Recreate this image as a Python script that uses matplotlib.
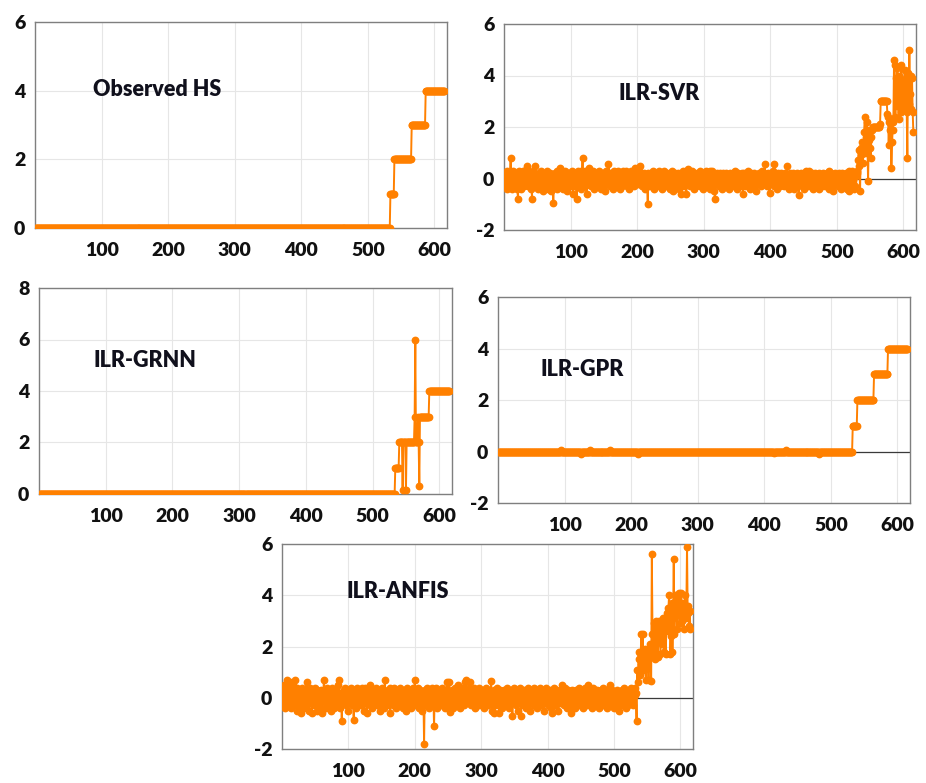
import numpy as np
import matplotlib
matplotlib.use("Agg")
import matplotlib.pyplot as plt

plt.rcParams['font.family'] = ['Lato', 'DejaVu Sans']
plt.rcParams['axes.unicode_minus'] = False

# step-like series: (level, number of samples)
obs_levels = [0, 1, 2, 3, 4]
obs_counts = [533, 6, 26, 21, 29]

gpr_levels = [0, 1, 2, 3, 4]
gpr_counts = [532, 7, 25, 21, 30]
gpr_bump_x = [95, 125, 138, 168, 210, 415, 432, 483]
gpr_bump_y = [0.06, -0.08, 0.07, 0.06, -0.08, -0.07, 0.07, -0.08]

grnn_levels = [0, 1, 2, 0.15, 2, 0.15, 2, 3, 6, 2, 3, 2, 0.3, 3, 4]
grnn_counts = [533, 6, 5, 1, 4, 1, 12, 1, 1, 3, 1, 1, 1, 14, 31]

# ILR-SVR, samples 1..530 (noise around zero)
svr_base = [
    0.2, -0.3, 0.1, -0.4, 0.3, -0.1, -0.3, 0.0, 0.2, 0.8, -0.2, -0.4, 0.1, 0.3, -0.3, 0.0, -0.2, 0.2, -0.1, -0.4,
    -0.8, 0.1, 0.3, -0.2, 0.0, -0.4, 0.2, -0.1, 0.3, -0.3, 0.1, -0.2, 0.0, 0.4, 0.5, -0.3, 0.1, -0.2, 0.2, -0.4,
    0.0, -0.8, 0.3, -0.1, 0.2, -0.3, 0.5, 0.1, -0.2, 0.0, -0.4, 0.2, -0.1, 0.1, -0.3, 0.3, -0.2, 0.0, -0.5, 0.1,
    0.2, -0.3, 0.0, -0.1, 0.3, -0.4, 0.1, -0.2, 0.2, -0.5, 0.0, -0.3, 0.1, -0.95, -0.2, 0.2, -0.1, 0.0, -0.4, 0.3,
    -0.2, 0.1, -0.3, 0.4, 0.0, -0.1, 0.2, -0.4, 0.1, -0.2, 0.3, -0.3, 0.0, 0.1, -0.5, 0.2, -0.1, 0.0, -0.3, 0.2,
    -0.1, 0.3, -0.2, -0.6, 0.1, -0.3, 0.2, 0.0, -0.8, 0.1, 0.3, -0.2, 0.0, 0.2, -0.4, 0.3, 0.1, 0.8, -0.1, 0.2,
    -0.3, 0.3, 0.0, -0.6, 0.2, -0.1, 0.4, -0.2, 0.1, -0.3, 0.2, 0.0, -0.1, 0.3, -0.4, 0.1, -0.2, 0.2, 0.0, -0.3,
    0.1, -0.2, 0.3, 0.0, -0.4, 0.2, -0.1, 0.1, -0.3, 0.2, 0.0, -0.5, 0.3, -0.2, 0.1, -0.1, 0.55, 0.2, -0.3, 0.0,
    0.2, -0.2, 0.1, -0.4, 0.3, 0.0, -0.1, 0.2, -0.3, 0.1, 0.3, -0.2, 0.0, -0.4, 0.2, -0.1, 0.1, -0.3, 0.3, 0.0,
    -0.2, 0.2, -0.1, 0.3, -0.3, 0.0, 0.1, -0.4, 0.2, -0.1, 0.3, 0.0, -0.2, 0.1, -0.3, 0.2, 0.4, -0.1, 0.0, 0.3,
    -0.2, 0.1, 0.3, -0.1, 0.5, 0.2, -0.3, 0.0, 0.1, -0.2, 0.2, -0.4, 0.0, 0.1, -0.3, -1.0, 0.2, -0.1, 0.1, -0.3,
    0.2, 0.0, -0.2, 0.3, -0.4, 0.1, -0.1, 0.2, 0.0, -0.3, 0.1, -0.2, 0.3, 0.0, -0.1, 0.2, -0.4, 0.1, 0.0, -0.2,
    0.3, -0.1, 0.1, -0.3, 0.2, 0.0, -0.2, 0.1, -0.4, 0.2, -0.1, 0.0, 0.3, -0.5, 0.1, -0.2, 0.2, 0.0, -0.3, 0.1,
    -0.1, 0.2, -0.4, 0.0, 0.1, -0.6, 0.2, -0.1, 0.3, -0.3, 0.0, 0.1, -0.2, -0.6, 0.3, 0.35, -0.1, 0.2, -0.3, 0.0,
    0.1, -0.2, 0.3, -0.1, 0.0, -0.4, 0.2, 0.1, -0.3, 0.0, 0.2, -0.1, 0.1, -0.3, 0.3, 0.0, -0.2, 0.1, -0.4, 0.2,
    0.0, -0.1, 0.3, -0.2, 0.1, -0.3, 0.2, 0.0, 0.3, -0.4, 0.1, -0.1, 0.3, -0.2, 0.0, -0.5, -0.8, 0.1, -0.2, 0.2,
    -0.1, 0.0, -0.3, 0.2, 0.1, -0.2, 0.0, -0.4, 0.2, -0.1, 0.1, -0.3, 0.0, 0.2, -0.2, 0.1, -0.1, -0.4, 0.2, 0.0,
    -0.2, 0.1, -0.3, 0.2, 0.0, -0.1, 0.3, -0.2, 0.0, -0.4, 0.1, 0.2, -0.2, 0.0, -0.3, 0.1, 0.2, -0.1, -0.6, 0.0,
    0.2, -0.3, 0.1, -0.1, 0.0, 0.3, -0.2, 0.1, -0.4, 0.0, 0.2, -0.1, 0.1, -0.3, 0.0, 0.2, -0.2, 0.1, -0.5, 0.0,
    0.1, -0.2, 0.2, -0.1, 0.0, -0.3, 0.3, 0.1, -0.2, 0.0, 0.2, 0.55, -0.1, 0.1, -0.3, 0.2, 0.0, -0.2, -0.55, 0.1,
    0.2, -0.1, 0.0, 0.3, -0.3, 0.55, 0.1, -0.2, 0.0, -0.4, 0.2, -0.1, 0.1, -0.3, 0.0, 0.2, -0.2, 0.1, -0.1, 0.0,
    -0.3, 0.2, 0.1, -0.2, 0.5, 0.0, -0.1, -0.4, 0.2, 0.0, -0.3, 0.1, -0.2, 0.2, -0.4, 0.0, 0.1, -0.1, -0.3, 0.2,
    0.0, -0.2, -0.65, 0.1, -0.1, 0.2, -0.3, 0.0, 0.1, -0.4, 0.2, -0.1, 0.3, 0.0, -0.2, 0.1, -0.3, 0.3, 0.0, -0.2,
    0.1, -0.1, 0.2, -0.4, 0.0, 0.1, -0.2, 0.2, -0.3, 0.0, 0.1, -0.1, -0.4, 0.2, 0.0, -0.2, 0.1, -0.3, 0.0, 0.2,
    -0.1, 0.1, -0.3, 0.0, 0.2, -0.2, 0.1, -0.4, 0.3, 0.0, -0.1, 0.2, -0.3, 0.1, -0.5, 0.0, 0.2, -0.2, 0.1, -0.1,
    0.0, -0.3, 0.2, -0.1, 0.1, -0.4, 0.0, 0.2, -0.2, 0.1, -0.3, 0.0, -0.1, 0.2, -0.4, 0.1, -0.2, 0.3, -0.5, 0.0,
    0.1, -0.3, 0.3, -0.1, 0.0, -0.4, 0.2, -0.3, 0.1, 0.3,
]
# ILR-SVR, samples 531..615
svr_tail = [
    0.2, 0.7, 1.1, 0.5, -0.5, 1.2, 0.9, 1.4, 0.6, 1.1,
    1.8, 2.4, 1.0, 1.6, 2.2, 1.3, -0.1, 1.5, 1.9, 1.2,
    0.8, 1.6, 1.9, 2.0, 2.0, 2.0, 2.0, 2.0, 2.0, 2.0,
    2.0, 2.0, 2.0, 2.0, 2.1, 3.0, 3.0, 3.0, 3.0, 3.0,
    3.0, 3.0, 3.0, 3.0, 3.0, 2.5, 2.4, 1.3, 2.2, 1.9,
    2.3, 0.4, 1.4, 1.9, 2.2, 4.6, 4.4, 2.4, 3.9, 2.8,
    4.3, 3.1, 2.3, 4.0, 3.6, 2.6, 4.4, 2.9, 3.4, 3.8,
    2.7, 4.2, 3.0, 3.9, 2.6, 0.8, 4.1, 2.9, 5.0, 3.3,
    4.0, 2.7, 3.9, 2.6, 1.8,
]

# ILR-ANFIS, samples 1..533
anfis_base = [
    0.3, -0.2, 0.5, 0.1, -0.4, 0.2, 0.7, -0.1, 0.4, -0.3, 0.0, 0.6, -0.4, 0.2, -0.2, 0.1, 0.5, -0.3, 0.3, 0.7,
    -0.1, 0.4, -0.5, 0.2, 0.0, -0.3, 0.3, -0.6, 0.1, 0.4, -0.2, 0.2, -0.4, 0.0, 0.3, -0.1, 0.6, -0.3, 0.2, -0.5,
    0.1, 0.4, -0.2, 0.3, -0.6, 0.0, 0.2, -0.3, 0.4, -0.1, 0.1, -0.5, 0.3, 0.0, -0.2, 0.2, -0.4, 0.1, 0.3, -0.6,
    0.2, -0.1, 0.7, 0.3, -0.2, 0.1, -0.4, 0.4, 0.0, -0.3, 0.2, -0.1, 0.3, -0.5, 0.1, 0.4, -0.2, 0.0, -0.4, 0.2,
    0.3, -0.3, 0.1, 0.5, -0.2, 0.7, 0.0, -0.4, 0.2, -0.9, 0.1, -0.2, 0.3, -0.1, 0.4, -0.3, 0.0, 0.2, -0.5, 0.1,
    0.3, -0.2, 0.0, 0.4, -0.3, 0.1, -0.1, -0.85, 0.2, 0.3, -0.4, 0.0, 0.4, -0.2, 0.1, -0.3, 0.3, 0.0, -0.1, 0.4,
    -0.3, 0.2, -0.5, 0.1, 0.4, -0.1, 0.0, -0.6, 0.3, 0.1, -0.2, 0.5, -0.3, 0.0, 0.2, -0.4, 0.3, -0.1, 0.1, -0.2,
    0.4, 0.0, -0.3, 0.2, -0.1, 0.3, -0.5, 0.1, 0.0, 0.4, -0.2, 0.2, -0.4, 0.3, 0.7, -0.1, 0.1, -0.3, 0.2, 0.0,
    -0.2, 0.4, -0.6, 0.1, -0.1, 0.3, -0.3, 0.0, 0.4, -0.2, 0.2, -0.4, 0.1, 0.3, -0.1, 0.0, -0.3, 0.4, 0.2, -0.2,
    0.1, -0.4, 0.3, 0.0, -0.2, 0.2, -0.5, 0.4, 0.1, -0.1, 0.3, -0.3, 0.0, 0.2, -0.4, 0.1, 0.4, -0.2, 0.0, 0.7,
    0.2, -0.3, 0.1, -0.1, 0.4, -0.4, 0.0, 0.3, -0.2, 0.1, -0.5, 0.2, 0.0, -1.8, 0.3, -0.3, 0.1, 0.4, -0.2, 0.0,
    0.2, -0.4, 0.3, -0.1, 0.1, 0.4, -0.3, 0.0, -1.1, 0.2, -0.2, 0.4, 0.1, -0.4, 0.0, 0.3, -0.1, 0.2, -0.3, 0.1,
    0.4, -0.2, 0.0, 0.3, -0.4, 0.1, 0.2, -0.1, 0.6, -0.3, 0.0, 0.6, -0.55, 0.2, -0.1, 0.3, -0.4, 0.1, 0.0, 0.4,
    -0.2, 0.2, -0.3, 0.1, 0.5, -0.1, 0.0, -0.4, 0.3, 0.2, -0.2, 0.4, 0.0, -0.3, 0.1, 0.6, 0.7, -0.1, 0.3, 0.0,
    -0.2, 0.4, 0.6, 0.1, -0.3, 0.2, 0.0, -0.1, 0.4, -0.4, 0.1, 0.3, -0.2, 0.0, 0.2, -0.3, 0.4, 0.1, -0.1, 0.0,
    0.3, -0.2, 0.1, -0.4, 0.2, 0.0, 0.4, -0.1, 0.1, -0.3, 0.3, 0.0, -0.2, 0.2, 0.65, -0.1, -0.5, 0.1, 0.3, -0.6,
    0.0, 0.2, -0.3, 0.4, 0.1, -0.2, -0.6, 0.3, 0.0, -0.1, 0.2, -0.4, 0.1, 0.3, -0.2, 0.0, 0.2, -0.3, 0.4, -0.1,
    0.1, -0.4, 0.2, 0.0, 0.3, -0.2, -0.7, 0.1, 0.4, -0.1, 0.0, 0.2, -0.3, 0.3, -0.5, 0.1, 0.0, 0.4, -0.2, -0.7,
    0.2, 0.0, -0.3, 0.3, 0.1, -0.1, 0.2, -0.4, 0.0, 0.4, -0.2, 0.1, -0.5, 0.3, 0.0, -0.1, 0.2, -0.3, 0.1, 0.4,
    -0.2, 0.0, 0.3, -0.4, 0.1, 0.2, -0.1, 0.4, -0.3, 0.0, 0.2, -0.2, 0.1, -0.5, 0.3, 0.0, -0.1, 0.4, 0.2, -0.3,
    0.1, -0.2, 0.3, 0.0, -0.4, 0.2, -0.6, 0.1, 0.4, -0.1, 0.0, 0.3, -0.3, 0.2, -0.5, 0.1, 0.0, 0.3, -0.2, 0.1,
    0.5, -0.1, 0.2, -0.3, 0.0, 0.4, -0.2, 0.1, -0.4, 0.3, 0.0, -0.1, 0.2, -0.3, 0.1, -0.6, 0.3, 0.0, -0.2, 0.2,
    0.0, -0.4, 0.3, 0.1, -0.1, 0.2, -0.3, 0.4, 0.0, -0.2, 0.1, 0.3, -0.4, 0.2, 0.0, -0.1, 0.4, 0.1, -0.3, 0.2,
    0.5, -0.2, 0.1, 0.3, -0.1, 0.0, -0.4, 0.2, 0.4, -0.2, 0.1, 0.0, -0.3, 0.3, 0.1, -0.1, 0.2, -0.4, 0.0, 0.3,
    -0.2, 0.1, 0.4, -0.3, 0.0, 0.2, -0.1, 0.3, -0.4, 0.1, 0.0, 0.2, -0.2, 0.5, -0.3, 0.1, 0.3, -0.1, 0.0, -0.4,
    0.2, 0.0, -0.3, 0.3, 0.1, -0.2, 0.2, -0.5, 0.0, 0.1, -0.3, 0.3, -0.1, 0.0, 0.4, -0.2, 0.1, -0.4, 0.2, 0.0,
    -0.3, 0.3, 0.1, -0.2, 0.4, 0.0, -0.1, 0.2, -0.3, 0.3, 0.1, 0.4, 0.2,
]
# ILR-ANFIS, samples 534..615
anfis_tail = [
    -0.9, 1.1, 0.6, 1.8, 1.5, 0.9, 1.3,
    2.5, 1.2, 2.5, 1.6, 1.1, 1.9, 1.4, 0.7, 1.8, 1.5,
    1.7, 0.7, 1.9, 2.1, 1.6, 0.65, 5.6, 2.5, 2.0, 1.8,
    2.9, 1.5, 2.6, 3.0, 2.2, 1.6, 2.8, 3.0, 2.4, 1.7,
    3.0, 2.1, 2.7, 3.1, 1.8, 2.6, 3.0, 1.7, 2.9, 3.3,
    2.6, 3.5, 4.0, 2.9, 1.7, 2.4, 3.7, 1.8, 3.1, 5.4,
    2.5, 4.0, 3.2, 3.8, 2.7, 3.9, 3.4, 4.1, 2.9, 3.5,
    4.1, 3.0, 3.7, 3.2, 2.7, 3.6, 4.0, 3.1, 3.5, 5.9,
    3.3, 3.6, 2.8, 3.4, 2.7,
]

x_ticks = [100, 200, 300, 400, 500, 600]

observed = np.repeat(obs_levels, obs_counts).astype(float)
gpr = np.repeat(gpr_levels, gpr_counts).astype(float)
gpr[np.array(gpr_bump_x) - 1] += gpr_bump_y
grnn = np.repeat(grnn_levels, grnn_counts).astype(float)
svr = np.array(svr_base + svr_tail)
anfis = np.array(anfis_base + anfis_tail)

ORANGE = '#FF8000'
W, H = 926, 783

fig = plt.figure(figsize=(W / 100, H / 100), dpi=100)


def panel(px, series, ylim, title, title_pos, zero_line):
    l, t, r, b = px
    ax = fig.add_axes([l / W, 1 - b / H, (r - l) / W, (b - t) / H])
    x = np.arange(1, len(series) + 1)
    ax.set_xlim(0, 619)
    ax.set_ylim(*ylim)
    ax.set_xticks(x_ticks)
    ax.set_yticks(np.arange(ylim[0], ylim[1] + 1, 2))
    ax.grid(True, color='#E6E6E6', lw=0.8, zorder=0)
    ax.set_axisbelow(True)
    if zero_line:
        ax.axhline(0, color='#3A3A3A', lw=0.9, zorder=1)
    ax.plot(x, series, color=ORANGE, lw=1.4, marker='o', ms=4.6,
            mec=ORANGE, mfc=ORANGE, zorder=3)
    for s in ax.spines.values():
        s.set_color('#7F7F7F')
        s.set_linewidth(1.0)
    ax.tick_params(length=0, labelsize=14, pad=7, colors='#111111')
    ax.tick_params(axis='x', pad=10)
    for lab in ax.get_xticklabels() + ax.get_yticklabels():
        lab.set_fontweight('heavy')
    ax.text(title_pos[0], title_pos[1], title, transform=ax.transAxes,
            fontsize=15.5, fontweight='heavy', color='#10101c',
            ha='left', va='center')
    return ax


panel((35, 22, 447, 228), observed, (0, 6), 'Observed HS', (0.141, 0.67), False)
panel((504, 24, 916, 230), svr, (-2, 6), 'ILR-SVR', (0.277, 0.665), True)
panel((39, 288, 452, 494), grnn, (0, 8), 'ILR-GRNN', (0.133, 0.65), False)
panel((498, 297, 910, 503), gpr, (-2, 6), 'ILR-GPR', (0.104, 0.65), True)
panel((282, 544, 693, 749), anfis, (-2, 6), 'ILR-ANFIS', (0.158, 0.77), True)

fig.savefig('out.png', dpi=100, facecolor='white')
